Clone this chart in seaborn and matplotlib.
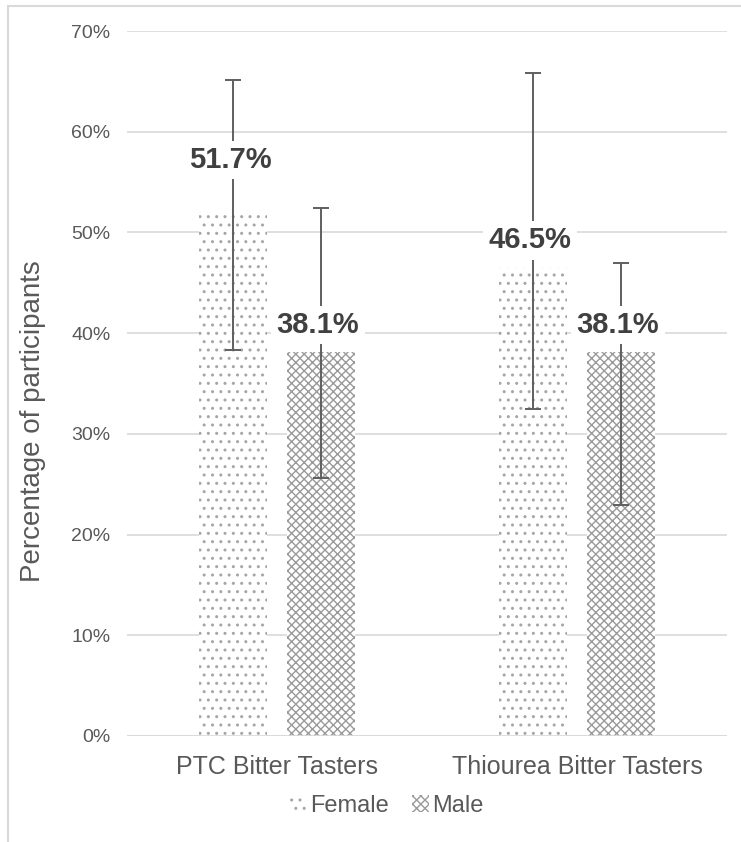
import numpy as np
import pandas as pd
import matplotlib
matplotlib.use("Agg")
import matplotlib.pyplot as plt
from matplotlib.patches import Patch
from matplotlib.lines import Line2D
import seaborn as sns

sns.set_style("white")
plt.rcParams["font.family"] = ["Liberation Sans", "DejaVu Sans"]
plt.rcParams["hatch.linewidth"] = 1.0

# --------------------------
# Data
# --------------------------
categories = ["PTC Bitter Tasters", "Thiourea Bitter Tasters"]
groups = ["Female", "Male"]
female_pct = [51.7, 46.5]
male_pct = [38.1, 38.1]
female_lo = [38.3, 32.5]   # lower end of error bar
female_hi = [65.1, 65.8]   # upper end of error bar
male_lo = [25.6, 22.9]
male_hi = [52.4, 47.0]

df = pd.DataFrame({
    "Category": categories * 2,
    "Sex": ["Female"] * 2 + ["Male"] * 2,
    "Pct": np.array(female_pct + male_pct) / 100,
})

text_col = "#595959"
grid_col = "#d9d9d9"
hatch_styles = {"Female": "..", "Male": "xxxx"}
hatch_cols = {"Female": "#a6a6a6", "Male": "#9a9a9a"}

fig = plt.figure(figsize=(7.41, 8.42), dpi=100)
ax = fig.add_axes([127 / 741, 1 - 736 / 842, 600 / 741, 705 / 842])

sns.barplot(data=df, x="Category", y="Pct", hue="Sex", order=categories,
            hue_order=groups, width=0.587, gap=0.226, ax=ax, legend=False,
            errorbar=None)

# hatching like the original
for cont, g in zip(ax.containers, groups):
    for bar in cont:
        bar.set_facecolor("white")
        bar.set_edgecolor(hatch_cols[g])
        bar.set_hatch(hatch_styles[g])
        bar.set_linewidth(0)

# error bars and value labels
vals = {"Female": (female_pct, female_lo, female_hi, [0.055, 0.027]),
        "Male": (male_pct, male_lo, male_hi, [0.027, 0.027])}
for cont, g in zip(ax.containers, groups):
    pct, lo, hi, off = vals[g]
    for i, bar in enumerate(cont):
        xc = bar.get_x() + bar.get_width() / 2
        v = pct[i] / 100
        ax.errorbar(xc, v, yerr=[[v - lo[i] / 100], [hi[i] / 100 - v]],
                    fmt="none", ecolor="#5f5f5f", elinewidth=1.4,
                    capsize=6, capthick=1.4, zorder=3)
        ax.text(xc - 0.01, v + off[i], f"{pct[i]:.1f}%", ha="center", va="center",
                fontsize=21, fontweight="bold", color="#404040", zorder=5,
                bbox=dict(boxstyle="square,pad=0.18", fc="white", ec="none"))

ax.set_ylim(0, 0.7)
ax.set_xlim(-0.5, 1.5)
ax.set_yticks(np.arange(0, 0.71, 0.1))
ax.set_yticklabels([f"{int(t)}%" for t in np.arange(0, 71, 10)])
ax.yaxis.grid(True, color=grid_col, linewidth=1.2)
ax.set_axisbelow(True)
for s in ax.spines.values():
    s.set_visible(False)
ax.axhline(0, color=grid_col, linewidth=1.2, zorder=1)
ax.tick_params(axis="y", length=0, pad=12, labelsize=14, labelcolor=text_col)
ax.tick_params(axis="x", length=0, pad=14, labelsize=18, labelcolor=text_col)
ax.set_xlabel("")
ax.set_ylabel("Percentage of participants", fontsize=20, color=text_col)
ax.yaxis.set_label_coords(-0.135, 0.447)

handles = [Patch(facecolor="white", edgecolor=hatch_cols[g], hatch=hatch_styles[g],
                 linewidth=0) for g in groups]
fig.legend(handles, groups, loc="center", bbox_to_anchor=(387 / 741, 1 - 806 / 842),
           ncol=2, frameon=False, fontsize=17, labelcolor=text_col,
           handlelength=0.7, handleheight=0.7, handletextpad=0.15,
           columnspacing=1.0)

# chart area border (left and top visible in the original)
fig.add_artist(Line2D([8 / 741, 8 / 741], [0, 1 - 6 / 842], color=grid_col,
                      linewidth=1.5, transform=fig.transFigure))
fig.add_artist(Line2D([8 / 741, 1], [1 - 6 / 842, 1 - 6 / 842], color=grid_col,
                      linewidth=1.5, transform=fig.transFigure))

fig.savefig("out.png", dpi=100, facecolor="white")
